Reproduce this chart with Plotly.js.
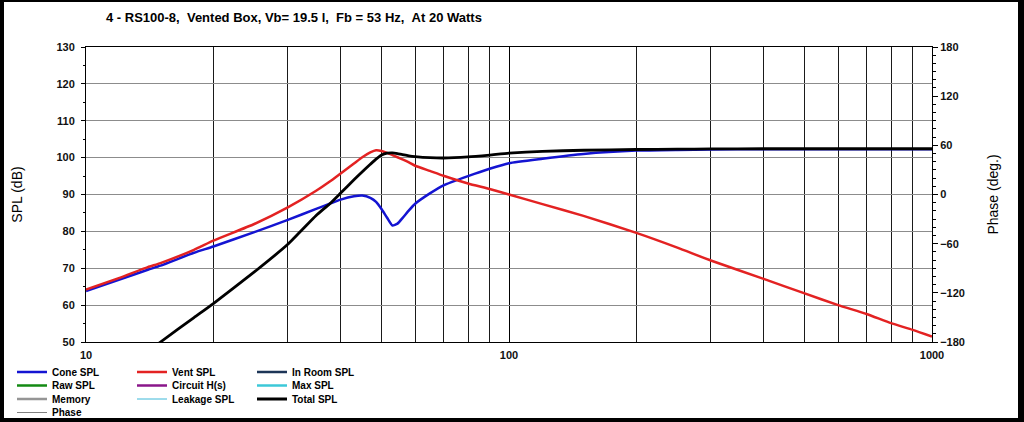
<!DOCTYPE html>
<html>
<head>
<meta charset="utf-8">
<script src="https://cdn.plot.ly/plotly-3.0.1.min.js"></script>
<style>
  html, body { margin: 0; padding: 0; background: #fff; }
  #wrap { position: relative; width: 1024px; height: 422px; }
  #frame {
    position: absolute; left: 0; top: 0; width: 1024px; height: 422px;
    box-sizing: border-box; border-style: solid; border-color: #000;
    border-width: 2px 6px 4px 4px; pointer-events: none;
  }
</style>
</head>
<body>
<div id="wrap">
  <div id="chart" style="width:1024px;height:422px;"></div>
  <div id="frame"></div>
</div>
<script>
// frequency points (Hz)
var freq = [10, 12, 14, 15, 18, 20, 25, 30, 35, 37.7, 40, 43, 45, 47, 48.5, 50, 51.5, 53, 54.5, 56, 58, 60, 65, 70, 80, 90, 100, 120, 150, 200, 250, 300, 400, 500, 600, 700, 800, 900, 1000];

// Cone SPL (blue), dB
var coneSPL = [63.8, 66.9, 69.6, 70.7, 74.2, 75.9, 79.8, 83.1, 86.1, 87.5, 88.6, 89.5, 89.7, 89.1, 88.0, 86.0, 83.7, 81.6, 82.1, 83.6, 85.7, 87.5, 90.3, 92.5, 95.0, 97.0, 98.5, 99.7, 101.0, 101.9, 102.1, 102.2, 102.3, 102.3, 102.3, 102.3, 102.3, 102.3, 102.3];

// Vent SPL (red), dB
var ventSPL = [64.2, 67.4, 70.3, 71.4, 75.0, 77.5, 82.0, 86.5, 91.0, 93.5, 95.7, 98.4, 100.1, 101.4, 102.0, 101.8, 101.3, 100.7, 100.1, 99.5, 98.7, 97.8, 96.4, 95.1, 93.0, 91.5, 90.0, 87.4, 84.2, 79.6, 75.6, 72.1, 67.1, 63.2, 60.0, 57.6, 55.1, 53.3, 51.5];

// Total SPL (black), dB; null where the curve is off the chart
var totalSPL = [null, null, 47.3, 50.0, 56.6, 60.4, 69.0, 76.5, 84.3, 87.5, 90.4, 94.0, 96.2, 98.2, 99.6, 100.7, 101.2, 101.3, 101.1, 100.8, 100.5, 100.3, 100.0, 99.9, 100.2, 100.7, 101.2, 101.7, 102.0, 102.2, 102.3, 102.35, 102.4, 102.4, 102.4, 102.4, 102.4, 102.4, 102.4];

var xTickVals = [10, 100, 1000];
var xTickText = ['10', '100', '1000'];
var xMinorVals = [20, 30, 40, 50, 60, 70, 80, 90, 200, 300, 400, 500, 600, 700, 800, 900];

var nb = '\u00a0';
var titleText = '4 - RS100-8,' + nb + nb + 'Vented Box, Vb= 19.5 l,' + nb + nb + 'Fb = 53 Hz,' + nb + nb + 'At 20 Watts';

var fontFam = '"Liberation Sans", Arial, sans-serif';

// series with no curve in this plot, kept for the legend
function legendOnly(name, color, width, legend) {
    return {
        type: 'scatter', mode: 'lines', x: [null], y: [null], name: name,
        line: { color: color, width: width }, legend: legend
    };
}

var data = [
    { type: 'scatter', mode: 'lines', x: freq, y: coneSPL, name: 'Cone SPL',
      line: { color: '#1414d2', width: 2.5, shape: 'spline', smoothing: 0.5 }, legend: 'legend' },
    { type: 'scatter', mode: 'lines', x: freq, y: ventSPL, name: 'Vent SPL',
      line: { color: '#e32222', width: 2.5, shape: 'spline', smoothing: 0.5 }, legend: 'legend' },
    legendOnly('In Room SPL', '#1d3557', 2.5, 'legend'),
    legendOnly('Raw SPL', '#138a13', 2.5, 'legend2'),
    legendOnly('Circuit H(s)', '#8a168a', 2.5, 'legend2'),
    legendOnly('Max SPL', '#3cc8d8', 2.5, 'legend2'),
    legendOnly('Memory', '#959595', 2.5, 'legend3'),
    legendOnly('Leakage SPL', '#3cb8d8', 1, 'legend3'),
    { type: 'scatter', mode: 'lines', x: freq, y: totalSPL, name: 'Total SPL',
      line: { color: '#000000', width: 2.8, shape: 'spline', smoothing: 0.5 }, legend: 'legend3' },
    { type: 'scatter', mode: 'lines', x: [null], y: [null], name: 'Phase', yaxis: 'y2',
      line: { color: '#808080', width: 1 }, legend: 'legend4' }
];

function legendRow(yPx) {
    return {
        orientation: 'h', xref: 'container', yref: 'container',
        x: 12 / 1024, xanchor: 'left', y: 1 - yPx / 422, yanchor: 'middle',
        bgcolor: 'rgba(0,0,0,0)', borderwidth: 0,
        entrywidth: 75, entrywidthmode: 'pixels', itemwidth: 30,
        font: { family: fontFam, size: 10, color: '#000', weight: 'bold' }
    };
}

var tickFont = { family: fontFam, size: 11, color: '#111', weight: 'bold' };

var layout = {
    width: 1024, height: 422,
    margin: { l: 86, r: 92, t: 47, b: 80, pad: 0 },
    paper_bgcolor: '#fff', plot_bgcolor: '#fff',
    font: { family: fontFam },
    title: {
        text: titleText, xref: 'container', yref: 'container',
        x: 106 / 1024, xanchor: 'left', y: 1 - 17 / 422, yanchor: 'middle',
        font: { family: fontFam, size: 13, color: '#000', weight: 'bold' }
    },
    xaxis: {
        type: 'log', range: [1, 3],
        tickmode: 'array', tickvals: xTickVals, ticktext: xTickText,
        ticks: '', tickfont: tickFont, ticklabelstandoff: 3,
        showgrid: true, gridcolor: '#000', gridwidth: 1,
        showline: true, linecolor: '#000', linewidth: 1, mirror: true,
        zeroline: false,
        minor: { tickmode: 'array', tickvals: xMinorVals, showgrid: true, gridcolor: '#1a1a1a', gridwidth: 1, ticks: '' }
    },
    yaxis: {
        range: [50, 130], tick0: 50, dtick: 10,
        ticks: 'outside', ticklen: 4, tickcolor: '#000', tickfont: tickFont, ticklabelstandoff: 4,
        showgrid: true, gridcolor: '#8c8c8c', gridwidth: 1,
        showline: true, linecolor: '#000', linewidth: 1, zeroline: false,
        minor: { dtick: 5, ticks: 'outside', ticklen: 2, tickcolor: '#000', showgrid: false },
        title: { text: 'SPL (dB)', standoff: 30, font: { family: fontFam, size: 14, color: '#000' } }
    },
    yaxis2: {
        overlaying: 'y', side: 'right', anchor: 'x',
        range: [-180, 180], tick0: -180, dtick: 60,
        ticks: 'outside', ticklen: 5, tickcolor: '#000', tickfont: tickFont,
        showgrid: false, showline: true, linecolor: '#000', linewidth: 1, zeroline: false,
        minor: { dtick: 10, ticks: 'outside', ticklen: 3, tickcolor: '#000', showgrid: false },
        title: { text: 'Phase (deg.)', standoff: 24, font: { family: fontFam, size: 14, color: '#000' } }
    },
    legend: legendRow(372),
    legend2: legendRow(385.5),
    legend3: legendRow(399),
    legend4: legendRow(412.5),
    showlegend: true
};

Plotly.newPlot('chart', data, layout, { displayModeBar: false, staticPlot: true });
</script>
</body>
</html>
